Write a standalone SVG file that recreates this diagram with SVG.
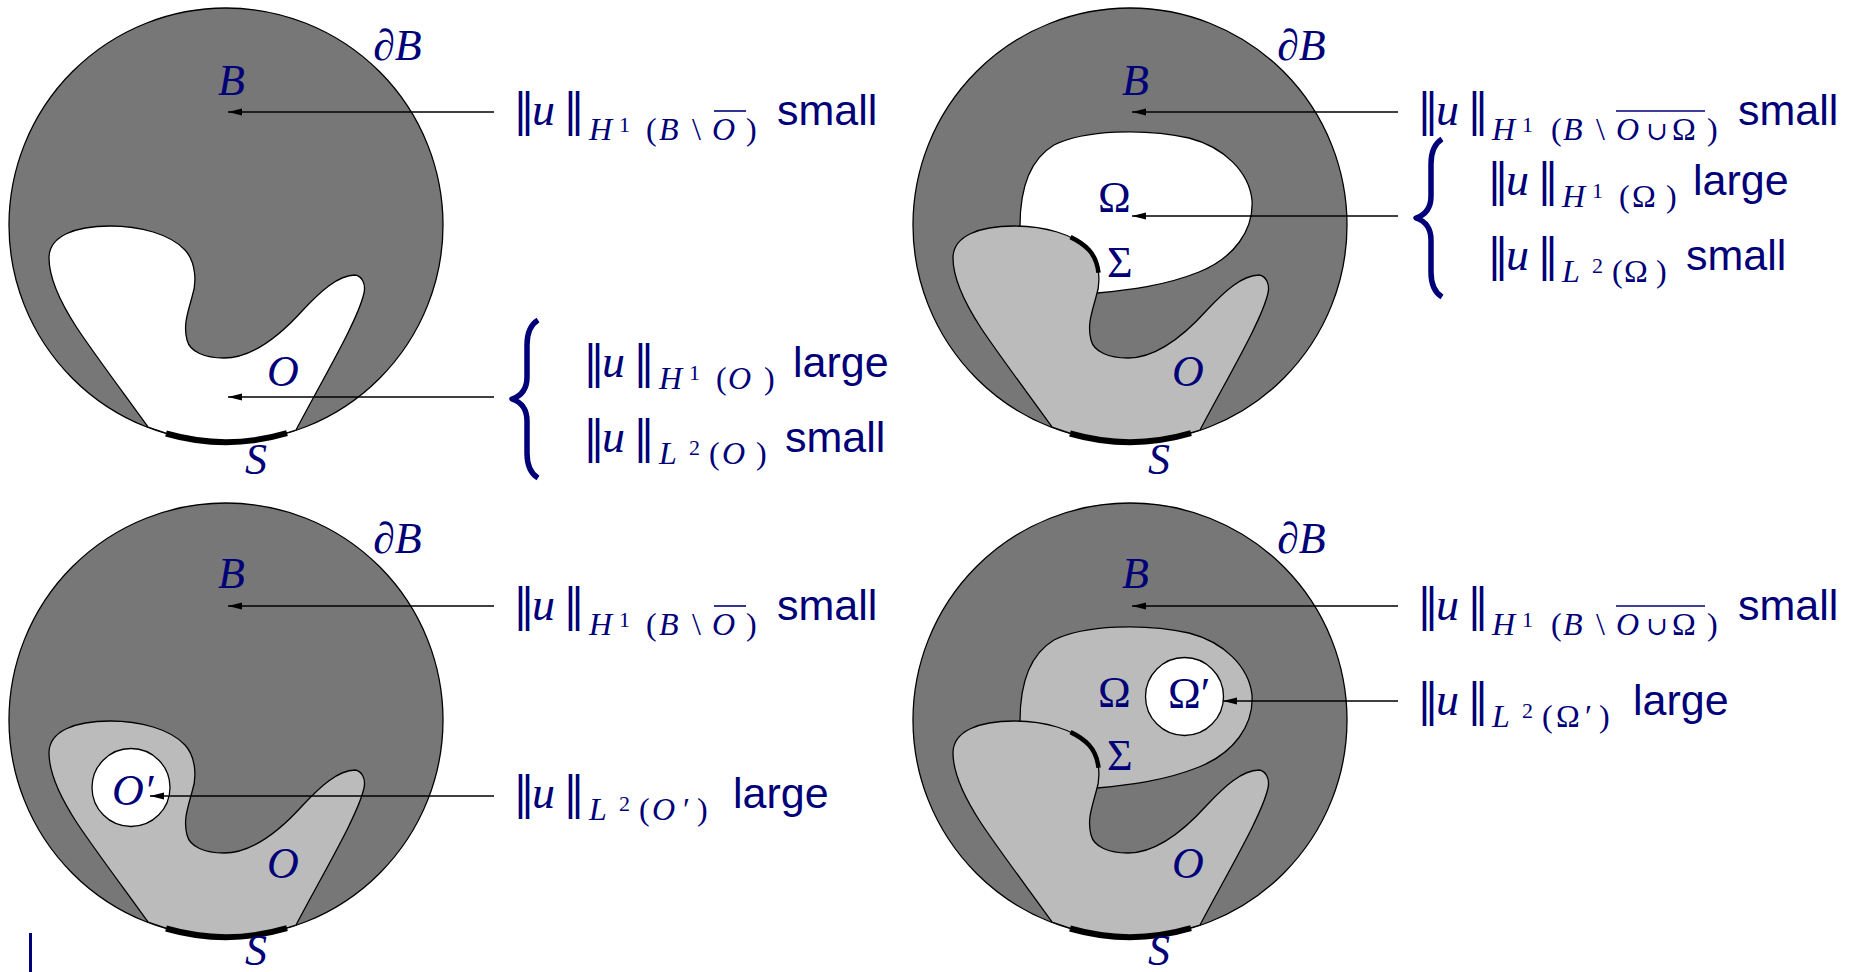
<svg xmlns="http://www.w3.org/2000/svg" width="1862" height="972" viewBox="0 0 1862 972">
<style>
.disk{fill:#777;stroke:#000;stroke-width:1.3}
.light{fill:#bbb;stroke:#000;stroke-width:1.3}
.white{fill:#fff;stroke:#000;stroke-width:1.3}
.thick{fill:none;stroke:#000;stroke-width:6}
.sig{fill:none;stroke:#000;stroke-width:4.5}
.lbl{font-family:"Liberation Serif",serif;font-style:italic;font-size:44px;fill:#000078}
.up{font-style:normal}
.m{font-family:"Liberation Serif","DejaVu Serif",serif;fill:#000078;font-size:32px}
.bar{font-family:"DejaVu Serif",serif;font-size:44px;font-style:normal}
.u{font-style:italic;font-size:46px}
.it{font-style:italic}
.sup{font-size:22px}
.cup{font-size:26px}
.word{font-family:"Liberation Sans",sans-serif;font-size:43px;fill:#000078}
.arrow{stroke:#000;stroke-width:1.4;fill:none;marker-end:url(#ah)}
.ovl{stroke:#000078;stroke-width:1.6}
.brace{fill:none;stroke:#000078;stroke-width:5.5;stroke-linejoin:round}
</style>
<defs>
<marker id="ah" markerWidth="15" markerHeight="8" refX="14" refY="3.5" orient="auto" markerUnits="userSpaceOnUse"><path d="M0,0 L14,3.5 L0,7 z" fill="#000"/></marker>
<circle id="diskShape" cx="226" cy="225" r="217"/>
<path id="blobO" d="M 148,427 C 125,395 95,355 77,328 C 62,305 49,280 49,258 C 49,236 75,226 110,226 C 140,226 170,234 185,250 C 196,262 197,283 192,297 C 188,312 183,325 187,340 C 190,352 205,358 224,358 C 255,358 285,330 303,310 C 320,292 338,275 355,275 C 362,276 366,284 364,293 C 358,320 325,375 296,430 A 217 217 0 0 1 148,427 Z"/>
<path id="omegaShape" d="M 116,226 C 116,190 125,160 150,145 C 180,130 240,128 285,138 C 320,147 345,172 348,200 C 350,230 330,258 295,272 C 260,286 225,290 193,293 L 150,260 Z"/>
<path id="sArc" d="M 166,433.5 A 217 217 0 0 0 287,433.2"/>
<path id="sigArc" d="M 166.5,237.1 C 173.9,240.6 180.2,244.9 185,250 C 190.5,256 193.5,264.25 194.5,272.75"/>
<path id="braceShape" d="M 26,-79 C 18,-74 15,-66 15,-54 L 15,-22 C 15,-10 9,-3 0,0 C 9,3 15,10 15,22 L 15,54 C 15,66 18,74 26,79"/>
</defs>

<!-- Top-left panel -->
<g id="panel-tl">
  <g id="tl-B"><use href="#diskShape" class="disk"/></g>
  <g id="tl-O"><use href="#blobO" class="white"/></g>
  <g id="tl-S"><use href="#sArc" class="thick"/></g>
  <g id="tl-labels">
    <text class="lbl" x="373" y="60">∂B</text>
    <text class="lbl" x="218" y="95">B</text>
    <text class="lbl" x="267" y="386">O</text>
    <text class="lbl" x="245" y="474">S</text>
  </g>
</g>

<!-- Top-right panel -->
<g id="panel-tr" transform="translate(904,0)">
  <g id="tr-B"><use href="#diskShape" class="disk"/></g>
  <g id="tr-Omega"><use href="#omegaShape" class="white"/></g>
  <g id="tr-O"><use href="#blobO" class="light"/></g>
  <g id="tr-Sigma"><use href="#sigArc" class="sig"/></g>
  <g id="tr-S"><use href="#sArc" class="thick"/></g>
  <g id="tr-labels">
    <text class="lbl" x="373" y="60">∂B</text>
    <text class="lbl" x="218" y="95">B</text>
    <text class="lbl up" x="194" y="212">Ω</text>
    <text class="lbl up" x="203" y="277">Σ</text>
    <text class="lbl" x="268" y="386">O</text>
    <text class="lbl" x="244" y="474">S</text>
  </g>
</g>

<!-- Bottom-left panel -->
<g id="panel-bl" transform="translate(0,495)">
  <g id="bl-B"><use href="#diskShape" class="disk"/></g>
  <g id="bl-O"><use href="#blobO" class="light"/></g>
  <g id="bl-Oprime"><circle cx="131" cy="292.5" r="39" class="white"/></g>
  <g id="bl-S"><use href="#sArc" class="thick"/></g>
  <g id="bl-labels">
    <text class="lbl" x="373" y="58">∂B</text>
    <text class="lbl" x="218" y="93">B</text>
    <text class="lbl" x="112" y="310">O′</text>
    <text class="lbl" x="267" y="383">O</text>
    <text class="lbl" x="245" y="470">S</text>
  </g>
</g>

<!-- Bottom-right panel -->
<g id="panel-br" transform="translate(904,495)">
  <g id="br-B"><use href="#diskShape" class="disk"/></g>
  <g id="br-Omega"><use href="#omegaShape" class="light"/></g>
  <g id="br-Omegaprime"><circle cx="280.5" cy="201.5" r="39" class="white"/></g>
  <g id="br-O"><use href="#blobO" class="light"/></g>
  <g id="br-Sigma"><use href="#sigArc" class="sig"/></g>
  <g id="br-S"><use href="#sArc" class="thick"/></g>
  <g id="br-labels">
    <text class="lbl" x="373" y="58">∂B</text>
    <text class="lbl" x="218" y="93">B</text>
    <text class="lbl up" x="194" y="212">Ω</text>
    <text class="lbl up" x="264" y="213">Ω′</text>
    <text class="lbl up" x="203" y="275">Σ</text>
    <text class="lbl" x="268" y="383">O</text>
    <text class="lbl" x="244" y="470">S</text>
  </g>
</g>

<!-- Connectors -->
<g id="connectors">
  <line class="arrow" x1="494" y1="112" x2="228" y2="112"/>
  <line class="arrow" x1="494" y1="397" x2="228" y2="397"/>
  <line class="arrow" x1="1398" y1="112" x2="1132" y2="112"/>
  <line class="arrow" x1="1398" y1="216" x2="1132" y2="216"/>
  <line class="arrow" x1="494" y1="606" x2="228" y2="606"/>
  <line class="arrow" x1="494" y1="796" x2="150" y2="796"/>
  <line class="arrow" x1="1398" y1="606" x2="1132" y2="606"/>
  <line class="arrow" x1="1398" y1="701" x2="1223" y2="701"/>
</g>

<!-- Annotations top-left -->
<g id="note-tl-1">
  <text class="m" transform="translate(513,125)"><tspan class="bar" x="0" y="0">‖</tspan><tspan class="u" x="19" y="0">u</tspan><tspan class="bar" x="50" y="0">‖</tspan><tspan class="it" x="76" y="15">H</tspan><tspan class="sup" x="106" y="7">1</tspan><tspan x="133" y="15">(</tspan><tspan class="it" x="146" y="15">B</tspan><tspan x="179" y="15">\</tspan><tspan class="it" x="199" y="15">O</tspan><tspan x="233" y="15">)</tspan></text>
  <line class="ovl" x1="714" y1="111" x2="746" y2="111"/>
  <text class="word" x="777" y="125">small</text>
</g>
<g id="note-tl-2">
  <use href="#braceShape" class="brace" transform="translate(512,399)"/>
  <text class="m" transform="translate(583,377)"><tspan class="bar" x="0" y="0">‖</tspan><tspan class="u" x="19" y="0">u</tspan><tspan class="bar" x="50" y="0">‖</tspan><tspan class="it" x="76" y="12">H</tspan><tspan class="sup" x="106" y="3">1</tspan><tspan x="133" y="12">(</tspan><tspan class="it" x="145" y="12">O</tspan><tspan x="181" y="12">)</tspan></text>
  <text class="word" x="793" y="377">large</text>
  <text class="m" transform="translate(583,452)"><tspan class="bar" x="0" y="0">‖</tspan><tspan class="u" x="19" y="0">u</tspan><tspan class="bar" x="50" y="0">‖</tspan><tspan class="it" x="76" y="12">L</tspan><tspan class="sup" x="106" y="3">2</tspan><tspan x="126" y="12">(</tspan><tspan class="it" x="139" y="12">O</tspan><tspan x="173" y="12">)</tspan></text>
  <text class="word" x="785" y="452">small</text>
</g>

<!-- Annotations top-right -->
<g id="note-tr-1">
  <text class="m" transform="translate(1417,125)"><tspan class="bar" x="0" y="0">‖</tspan><tspan class="u" x="19" y="0">u</tspan><tspan class="bar" x="50" y="0">‖</tspan><tspan class="it" x="75" y="15">H</tspan><tspan class="sup" x="105" y="7">1</tspan><tspan x="134" y="15">(</tspan><tspan class="it" x="146" y="15">B</tspan><tspan x="179" y="15">\</tspan><tspan class="it" x="199" y="15">O</tspan><tspan class="cup" x="229" y="15">∪</tspan><tspan x="255" y="15">Ω</tspan><tspan x="290" y="15">)</tspan></text>
  <line class="ovl" x1="1616" y1="111" x2="1705" y2="111"/>
  <text class="word" x="1738" y="125">small</text>
</g>
<g id="note-tr-2">
  <use href="#braceShape" class="brace" transform="translate(1416,218)"/>
  <text class="m" transform="translate(1487,195)"><tspan class="bar" x="0" y="0">‖</tspan><tspan class="u" x="19" y="0">u</tspan><tspan class="bar" x="50" y="0">‖</tspan><tspan class="it" x="75" y="12">H</tspan><tspan class="sup" x="105" y="3">1</tspan><tspan x="132" y="12">(</tspan><tspan x="145" y="12">Ω</tspan><tspan x="179" y="12">)</tspan></text>
  <text class="word" x="1693" y="195">large</text>
  <text class="m" transform="translate(1487,270)"><tspan class="bar" x="0" y="0">‖</tspan><tspan class="u" x="19" y="0">u</tspan><tspan class="bar" x="50" y="0">‖</tspan><tspan class="it" x="75" y="12">L</tspan><tspan class="sup" x="105" y="3">2</tspan><tspan x="125" y="12">(</tspan><tspan x="137" y="12">Ω</tspan><tspan x="169" y="12">)</tspan></text>
  <text class="word" x="1686" y="270">small</text>
</g>

<!-- Annotations bottom-left -->
<g id="note-bl-1">
  <text class="m" transform="translate(513,620)"><tspan class="bar" x="0" y="0">‖</tspan><tspan class="u" x="19" y="0">u</tspan><tspan class="bar" x="50" y="0">‖</tspan><tspan class="it" x="76" y="15">H</tspan><tspan class="sup" x="106" y="7">1</tspan><tspan x="133" y="15">(</tspan><tspan class="it" x="146" y="15">B</tspan><tspan x="179" y="15">\</tspan><tspan class="it" x="199" y="15">O</tspan><tspan x="233" y="15">)</tspan></text>
  <line class="ovl" x1="714" y1="606" x2="746" y2="606"/>
  <text class="word" x="777" y="620">small</text>
</g>
<g id="note-bl-2">
  <text class="m" transform="translate(513,808)"><tspan class="bar" x="0" y="0">‖</tspan><tspan class="u" x="19" y="0">u</tspan><tspan class="bar" x="50" y="0">‖</tspan><tspan class="it" x="76" y="12">L</tspan><tspan class="sup" x="106" y="3">2</tspan><tspan x="126" y="12">(</tspan><tspan class="it" x="139" y="12">O</tspan><tspan x="170" y="12">′</tspan><tspan x="184" y="12">)</tspan></text>
  <text class="word" x="733" y="808">large</text>
</g>

<!-- Annotations bottom-right -->
<g id="note-br-1">
  <text class="m" transform="translate(1417,620)"><tspan class="bar" x="0" y="0">‖</tspan><tspan class="u" x="19" y="0">u</tspan><tspan class="bar" x="50" y="0">‖</tspan><tspan class="it" x="75" y="15">H</tspan><tspan class="sup" x="105" y="7">1</tspan><tspan x="134" y="15">(</tspan><tspan class="it" x="146" y="15">B</tspan><tspan x="179" y="15">\</tspan><tspan class="it" x="199" y="15">O</tspan><tspan class="cup" x="229" y="15">∪</tspan><tspan x="255" y="15">Ω</tspan><tspan x="290" y="15">)</tspan></text>
  <line class="ovl" x1="1616" y1="606" x2="1705" y2="606"/>
  <text class="word" x="1738" y="620">small</text>
</g>
<g id="note-br-2">
  <text class="m" transform="translate(1417,715)"><tspan class="bar" x="0" y="0">‖</tspan><tspan class="u" x="19" y="0">u</tspan><tspan class="bar" x="50" y="0">‖</tspan><tspan class="it" x="75" y="12">L</tspan><tspan class="sup" x="105" y="3">2</tspan><tspan x="125" y="12">(</tspan><tspan x="139" y="12">Ω</tspan><tspan x="168" y="12">′</tspan><tspan x="182" y="12">)</tspan></text>
  <text class="word" x="1633" y="715">large</text>
</g>

<g id="mark"><rect x="29" y="933" width="3" height="39" fill="#000078"/></g>
</svg>
